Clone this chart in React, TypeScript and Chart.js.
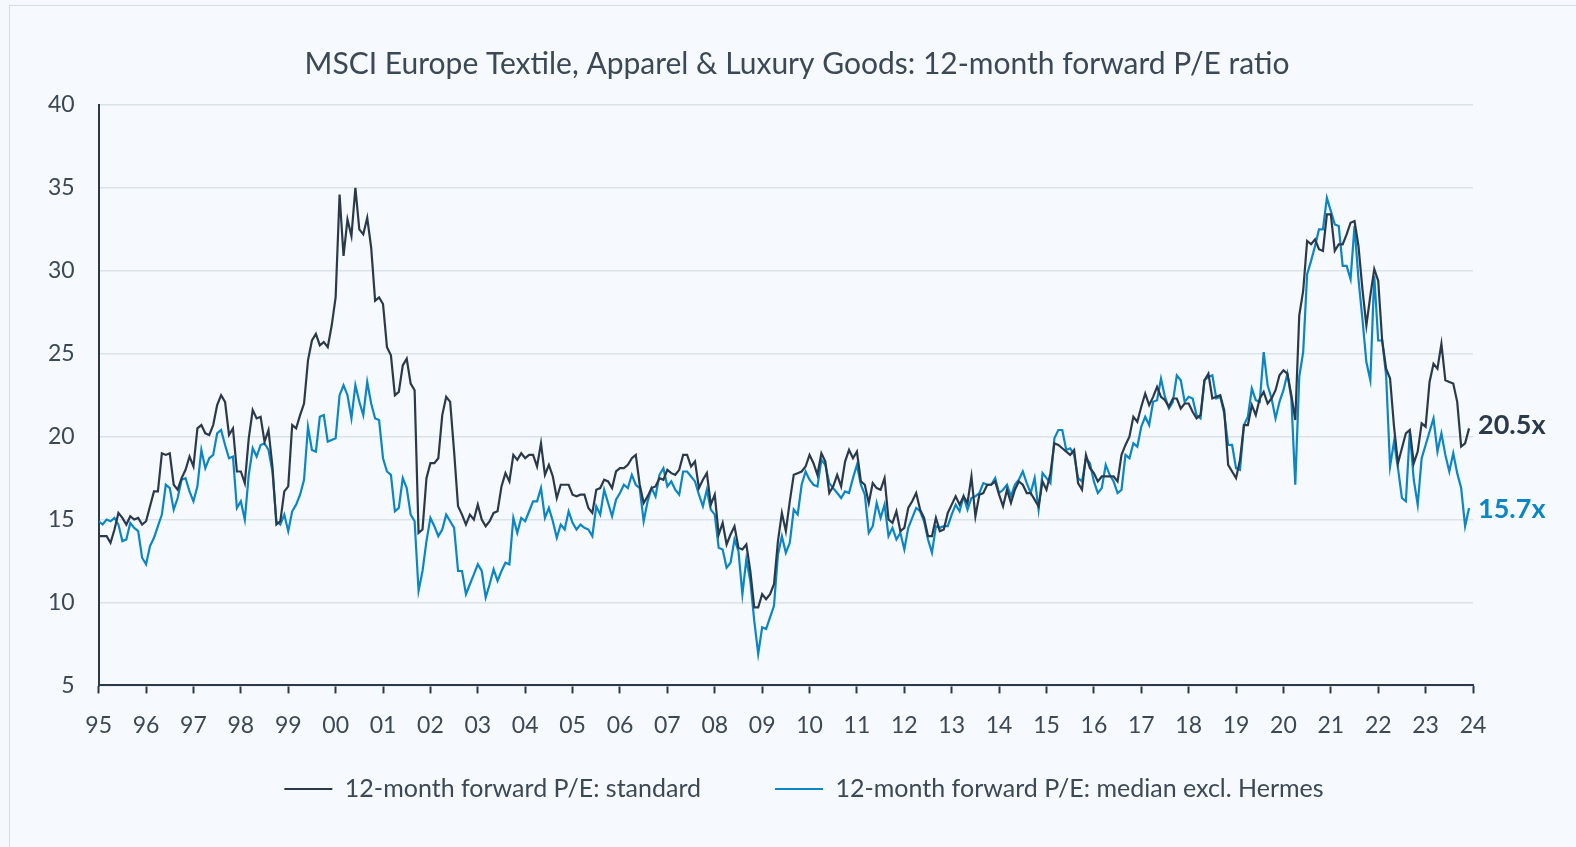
import React, { useEffect, useRef } from 'react';
import { Chart, registerables } from 'chart.js';

Chart.register(...registerables);

const chartTitle = 'MSCI Europe Textile, Apparel & Luxury Goods: 12-month forward P/E ratio';
const yearLabels = ['95', '96', '97', '98', '99', '00', '01', '02', '03', '04', '05', '06', '07', '08', '09', '10', '11', '12', '13', '14', '15', '16', '17', '18', '19', '20', '21', '22', '23', '24'];
const seriesNames = ['12-month forward P/E: standard', '12-month forward P/E: median excl. Hermes'];
const seriesColors = ['#2a3a4b', '#0b86c4'];

// Monthly values, Jan 1995 - Dec 2023 (one row per year)
const standardPE = [
  14.0, 14.0, 14.0, 13.6, 14.4, 15.4, 15.1, 14.7, 15.2, 15.0, 15.1, 14.7,
  14.9, 15.8, 16.7, 16.7, 19.0, 18.9, 19.0, 17.1, 16.8, 17.5, 18.0, 18.8,
  18.2, 20.5, 20.7, 20.2, 20.1, 20.7, 21.9, 22.5, 22.1, 20.1, 20.5, 17.9,
  17.9, 17.2, 19.9, 21.6, 21.1, 21.2, 19.7, 20.4, 18.2, 14.7, 14.9, 16.7,
  17.0, 20.7, 20.5, 21.3, 22.0, 24.6, 25.8, 26.2, 25.5, 25.7, 25.4, 26.7,
  28.4, 34.6, 30.9, 33.1, 32.1, 35.0, 32.5, 32.2, 33.2, 31.4, 28.2, 28.4,
  28.0, 25.4, 24.9, 22.5, 22.7, 24.3, 24.7, 23.2, 22.8, 14.2, 14.4, 17.5,
  18.4, 18.4, 18.7, 21.3, 22.4, 22.1, 19.1, 15.8, 15.3, 14.7, 15.3, 15.0,
  15.9, 15.0, 14.6, 14.9, 15.4, 15.5, 17.0, 17.8, 17.3, 18.9, 18.6, 19.0,
  18.7, 18.9, 18.9, 18.2, 19.6, 17.7, 18.3, 17.6, 16.3, 17.1, 17.1, 17.1,
  16.5, 16.4, 16.5, 16.5, 15.7, 15.4, 16.8, 16.9, 17.4, 17.3, 16.9, 17.9,
  18.1, 18.1, 18.3, 18.7, 18.9, 17.1, 16.0, 16.4, 16.9, 17.0, 17.5, 17.4,
  18.0, 17.8, 17.7, 18.0, 18.9, 18.9, 18.2, 18.5, 16.9, 17.4, 17.8, 15.9,
  16.5, 14.1, 14.8, 13.5, 14.1, 14.6, 13.3, 13.2, 13.5, 11.9, 9.7, 9.7,
  10.5, 10.2, 10.5, 11.1, 13.7, 15.4, 14.3, 16.1, 17.7, 17.8, 17.9, 18.2,
  18.9, 18.4, 17.7, 19.0, 18.5, 16.6, 17.0, 17.7, 17.0, 18.5, 19.2, 18.7,
  19.1, 17.3, 17.1, 16.0, 17.2, 16.9, 16.8, 17.5, 15.0, 14.8, 15.5, 14.3,
  14.5, 15.7, 16.1, 16.6, 15.6, 15.1, 14.0, 14.0, 15.1, 14.3, 14.4, 15.4,
  15.9, 16.4, 15.9, 16.4, 16.0, 17.6, 15.2, 16.5, 16.6, 17.1, 17.1, 17.3,
  16.5, 15.8, 16.8, 16.0, 16.8, 17.3, 17.1, 16.6, 16.6, 16.2, 15.8, 17.3,
  16.8, 17.8, 19.6, 19.5, 19.3, 19.1, 18.9, 19.2, 17.2, 16.8, 18.9, 18.1,
  17.8, 17.3, 17.6, 17.6, 17.6, 17.6, 17.3, 18.9, 19.5, 20.0, 21.2, 20.9,
  21.8, 22.6, 21.9, 22.4, 23.0, 22.4, 22.2, 21.8, 22.3, 22.3, 21.7, 22.0,
  22.0, 21.5, 21.1, 21.3, 23.4, 23.8, 22.3, 22.4, 22.5, 21.6, 18.3, 17.9,
  17.5, 18.6, 20.7, 20.7, 21.9, 21.3, 22.3, 22.7, 22.0, 22.3, 22.8, 23.7,
  24.0, 23.8, 22.5, 21.0, 27.3, 28.8, 31.8, 31.6, 31.9, 31.3, 31.2, 33.4,
  33.4, 31.2, 31.6, 31.6, 32.2, 32.9, 33.0, 31.5, 28.9, 26.7, 28.5, 30.1,
  29.4, 25.8, 24.1, 23.5, 20.6, 18.4, 19.3, 20.2, 20.4, 18.4, 19.1, 20.8,
  20.6, 23.3, 24.4, 24.1, 25.6, 23.4, 23.3, 23.2, 22.1, 19.4, 19.6, 20.5,
];

const medianExHermesPE = [
  14.9, 14.7, 15.0, 14.9, 15.1, 14.7, 13.7, 13.8, 14.8, 14.5, 14.3, 12.7,
  12.3, 13.4, 13.9, 14.6, 15.3, 17.1, 16.9, 15.6, 16.3, 17.4, 17.5, 16.7,
  16.1, 17.0, 19.2, 18.1, 18.7, 18.9, 20.2, 20.4, 19.5, 18.7, 18.8, 15.7,
  16.1, 15.0, 17.7, 19.3, 18.8, 19.5, 19.6, 19.2, 17.9, 14.9, 14.7, 15.3,
  14.3, 15.5, 15.9, 16.5, 17.4, 20.6, 19.2, 19.1, 21.2, 21.3, 19.7, 19.8,
  19.9, 22.5, 23.1, 22.5, 21.1, 23.1, 22.1, 21.3, 23.3, 22.0, 21.1, 21.0,
  18.7, 17.9, 17.7, 15.5, 15.7, 17.5, 16.9, 15.3, 14.9, 10.7, 11.9, 13.7,
  15.1, 14.6, 14.0, 14.4, 15.3, 14.9, 14.5, 11.9, 11.9, 10.5, 11.1, 11.7,
  12.3, 11.9, 10.3, 11.1, 12.0, 11.3, 11.9, 12.4, 12.3, 15.1, 14.2, 15.1,
  14.9, 15.5, 16.1, 16.1, 16.9, 15.1, 15.7, 14.9, 13.9, 14.7, 14.4, 15.5,
  14.8, 14.4, 14.7, 14.5, 14.4, 14.0, 15.8, 15.3, 16.8, 16.0, 15.2, 16.2,
  16.6, 17.1, 16.9, 17.7, 17.1, 16.9, 14.9, 16.1, 16.9, 16.4, 17.7, 18.1,
  17.0, 17.3, 16.8, 16.5, 17.9, 17.9, 17.6, 17.3, 16.5, 15.8, 16.8, 15.6,
  15.3, 13.3, 13.2, 12.1, 12.4, 13.8, 13.1, 10.5, 12.6, 11.3, 8.9, 6.9,
  8.5, 8.4, 9.1, 9.8, 12.9, 14.0, 13.0, 13.6, 15.6, 15.3, 17.1, 17.9,
  17.4, 17.1, 17.0, 18.6, 18.3, 17.2, 16.9, 16.6, 16.3, 16.7, 16.6, 17.5,
  18.3, 17.1, 16.5, 14.2, 14.6, 16.0, 15.1, 15.9, 14.0, 14.5, 13.8, 14.2,
  13.2, 14.5, 15.1, 15.7, 15.5, 14.9, 13.8, 13.0, 14.6, 14.5, 14.6, 14.6,
  15.3, 15.9, 15.5, 16.4, 15.6, 16.3, 16.4, 16.6, 17.2, 17.1, 17.1, 17.5,
  16.6, 16.8, 17.1, 16.4, 17.1, 17.4, 17.9, 17.2, 16.6, 17.5, 15.6, 17.8,
  17.5, 17.2, 19.9, 20.4, 20.4, 19.2, 19.3, 18.9, 17.5, 17.3, 18.7, 18.4,
  17.3, 16.6, 16.9, 18.3, 17.7, 17.3, 16.6, 16.8, 18.9, 18.7, 19.6, 19.4,
  20.6, 21.2, 20.7, 22.1, 22.2, 23.5, 22.4, 21.7, 22.1, 23.7, 23.4, 22.1,
  22.4, 22.3, 21.3, 21.1, 23.4, 23.6, 23.7, 22.3, 22.4, 21.4, 19.5, 19.5,
  18.1, 18.0, 20.7, 21.2, 22.9, 22.2, 22.1, 25.1, 23.1, 22.3, 21.1, 22.1,
  22.8, 23.8, 22.3, 17.1, 23.6, 25.1, 29.8, 30.6, 31.5, 32.5, 32.5, 34.4,
  33.6, 32.8, 32.7, 30.3, 30.3, 29.5, 32.7, 29.5, 27.1, 24.5, 23.4, 29.7,
  25.8, 25.8, 23.7, 18.2, 19.7, 18.1, 16.3, 16.1, 20.3, 17.4, 15.9, 18.7,
  19.5, 20.3, 21.1, 19.1, 20.2, 18.9, 17.9, 19.0, 17.8, 16.9, 14.6, 15.7,
];

const FONT = 'Lato, "Open Sans", sans-serif';
const TEXT_COLOR = '#3b4856';
const LEGEND_FONT_SIZE = 25;
const LEGEND_GAP = 74;
const TITLE_CENTER_X = 797;
const LEGEND_CENTER_X = 804;
const LEGEND_CENTER_Y = 789;
const END_LABEL_DY = [-3, 1];

const endLabelPlugin = {
  id: 'endLabels',
  afterDatasetsDraw(chart: any) {
    const ctx = chart.ctx;
    chart.data.datasets.forEach((ds: any, i: number) => {
      const meta = chart.getDatasetMeta(i);
      const pt = meta.data[meta.data.length - 1];
      const last = ds.data[ds.data.length - 1];
      ctx.save();
      ctx.font = 'bold 27px ' + FONT;
      ctx.fillStyle = ds.borderColor;
      ctx.textAlign = 'left';
      ctx.textBaseline = 'middle';
      ctx.fillText(last.y.toFixed(1) + 'x', pt.x + 9, pt.y + END_LABEL_DY[i]);
      ctx.restore();
    });
  },
};

// Re-centre the title and legend blocks horizontally and place the legend row.
const placeBlocksPlugin = {
  id: 'placeBlocks',
  afterLayout(chart: any) {
    const t = chart.titleBlock;
    if (t) {
      const d = TITLE_CENTER_X - (t.left + t.right) / 2;
      t.left += d;
      t.right += d;
    }
    const l = chart.legend;
    if (l) {
      const dx = LEGEND_CENTER_X - (l.left + l.right) / 2;
      const top = LEGEND_CENTER_Y - LEGEND_GAP - LEGEND_FONT_SIZE / 2;
      l.left += dx;
      l.right += dx;
      l.top = top;
      l.bottom = top + LEGEND_GAP + LEGEND_FONT_SIZE + 20;
      l.height = l.bottom - l.top;
    }
  },
};

export default function App() {
  const canvasRef = useRef<HTMLCanvasElement | null>(null);

  useEffect(() => {
    document.body.style.margin = '0';
    document.body.style.background = '#f5f8fc';
    const canvas = canvasRef.current;
    if (!canvas) return;
    const toPoints = (arr: number[]) => arr.map((v, i) => ({ x: i, y: v }));
    const chart = new Chart(canvas, {
      type: 'line',
      data: {
        datasets: [
          {
            label: seriesNames[0],
            data: toPoints(standardPE),
            borderColor: seriesColors[0],
            backgroundColor: seriesColors[0],
            borderWidth: 2.2,
            pointRadius: 0,
            tension: 0,
          },
          {
            label: seriesNames[1],
            data: toPoints(medianExHermesPE),
            borderColor: seriesColors[1],
            backgroundColor: seriesColors[1],
            borderWidth: 2.2,
            pointRadius: 0,
            tension: 0,
          },
        ],
      },
      options: {
        responsive: false,
        animation: false,
        devicePixelRatio: 1,
        layout: { padding: { left: 24, right: 103, top: 0, bottom: 23 } },
        plugins: {
          title: {
            display: true,
            text: chartTitle,
            color: TEXT_COLOR,
            font: { family: FONT, size: 30, weight: 'normal', lineHeight: 1.2 },
            padding: { top: 46, bottom: 23 },
          },
          legend: {
            position: 'bottom',
            maxHeight: 67,
            labels: {
              color: TEXT_COLOR,
              font: { family: FONT, size: LEGEND_FONT_SIZE },
              boxWidth: 48,
              boxHeight: 2,
              padding: LEGEND_GAP,
              generateLabels: (c: any) =>
                Chart.defaults.plugins.legend.labels.generateLabels(c).map((l: any) => ({
                  ...l,
                  lineWidth: 0,
                  fillStyle: l.strokeStyle,
                })),
            },
          },
          tooltip: { enabled: false },
        },
        scales: {
          x: {
            type: 'linear',
            min: 0,
            max: 348,
            ticks: {
              stepSize: 12,
              autoSkip: false,
              maxRotation: 0,
              color: TEXT_COLOR,
              font: { family: FONT, size: 23 },
              padding: 18,
              callback: (v: any) => yearLabels[Math.round(Number(v) / 12)],
            },
            grid: {
              drawOnChartArea: false,
              drawTicks: true,
              tickLength: 8,
              tickWidth: 2,
              tickColor: seriesColors[0],
            },
            border: { color: seriesColors[0], width: 2 },
          },
          y: {
            min: 5,
            max: 40,
            ticks: {
              stepSize: 5,
              color: TEXT_COLOR,
              font: { family: FONT, size: 23 },
              padding: 24,
            },
            grid: { color: '#dbe3ea', lineWidth: 1.5, drawTicks: false },
            border: { color: seriesColors[0], width: 2 },
          },
        },
      },
      plugins: [placeBlocksPlugin, endLabelPlugin],
    });
    return () => chart.destroy();
  }, []);

  return (
    <div style={{ position: 'relative', width: 1576, height: 847, overflow: 'hidden', background: '#f5f8fc' }}>
      <div
        style={{
          position: 'absolute',
          left: 9,
          top: 5,
          width: 1620,
          height: 900,
          border: '1px solid #d3dde6',
          background: '#f6f9fd',
        }}
      />
      <canvas
        ref={canvasRef}
        width={1576}
        height={847}
        style={{ position: 'absolute', left: 0, top: 0, width: 1576, height: 847 }}
      />
    </div>
  );
}
